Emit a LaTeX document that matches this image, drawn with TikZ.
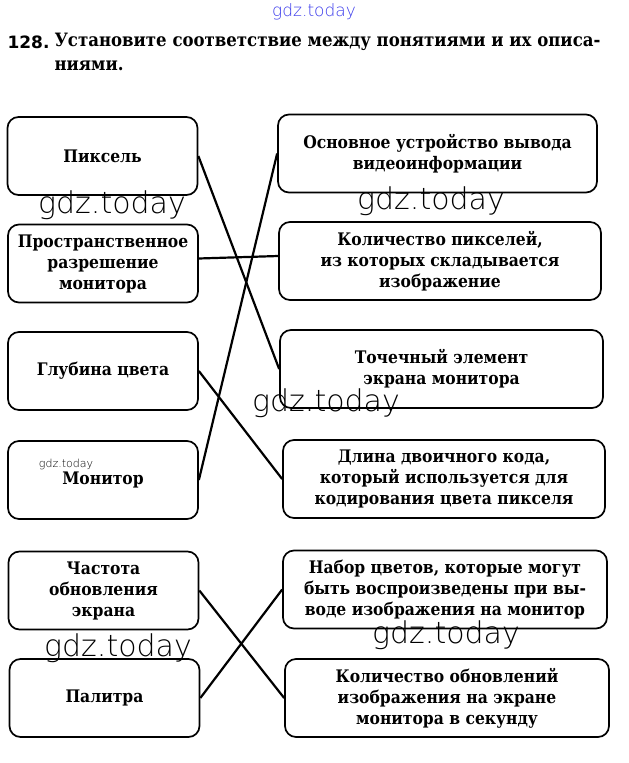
\documentclass[tikz,border=0pt]{standalone}
\usepackage{fontspec}
\setmainfont{DejaVu Serif Condensed}
\newfontfamily\numfont{DejaVu Sans}
\newfontfamily\wmfont{DejaVu Sans ExtraLight}
\definecolor{wmblue}{RGB}{60,60,235}

\begin{document}
\begin{tikzpicture}[x=1pt,y=-1pt,
  box/.style={draw,line width=1.7pt,rounded corners=11pt,minimum height=78pt,
    align=center,font=\bfseries\fontsize{17.3}{21}\selectfont},
  lbox/.style={box,minimum width=190pt},
  link/.style={line width=2.2pt},
  wm/.style={font=\wmfont\fontsize{30}{30}\selectfont,text=black}]
\useasboundingbox (0,0) rectangle (629,763);
% task
\node[anchor=west,font=\numfont\bfseries\fontsize{17}{17}\selectfont] (num) at (4,42) {128.};
\node[anchor=west,font=\bfseries\fontsize{18.4}{18.4}\selectfont] (task) at (51,42) {Установите соответствие между понятиями и их описа-};
\node[anchor=west,font=\bfseries\fontsize{18.4}{18.4}\selectfont] (task2) at (51,66) {ниями.};
% notions
\node[lbox] (pix) at (102.5,156) {Пиксель};
\node[lbox] (res) at (103,263.5) {Пространственное\\разрешение\\монитора};
\node[lbox] (depth) at (103,371) {Глубина цвета};
\node[lbox] (mon) at (103,480) {Монитор};
\node[lbox] (freq) at (103.5,590.5) {Частота\\обновления\\экрана};
\node[lbox] (pal) at (104.5,698) {Палитра};
% descriptions
\node[box,minimum width=319pt] (out) at (437.5,153.5) {Основное устройство вывода\\видеоинформации};
\node[box,minimum width=322pt] (cnt) at (440,261) {Количество пикселей,\\из которых складывается\\изображение};
\node[box,minimum width=323pt] (dot) at (441.5,369) {Точечный элемент\\экрана монитора};
\node[box,minimum width=322pt] (len) at (444,479) {Длина двоичного кода,\\который используется для\\кодирования цвета пикселя};
\node[box,minimum width=324pt] (colors) at (445,589.5) {Набор цветов, которые могут\\быть воспроизведены при вы-\\воде изображения на монитор};
\node[box,minimum width=324pt] (upd) at (447,698) {Количество обновлений\\изображения на экране\\монитора в секунду};
% answers
\draw[link] (pix.east) -- (dot.west);
\draw[link] ([yshift=5pt]res.east) -- ([yshift=5pt]cnt.west);
\draw[link] (depth.east) -- (len.west);
\draw[link] (mon.east) -- (out.west);
\draw[link] (freq.east) -- (upd.west);
\draw[link] (pal.east) -- (colors.west);
% watermarks
\node[font=\wmfont\fontsize{17}{17}\selectfont,text=wmblue] (wm0) at (314,12) {gdz.today};
\node[wm] (wm1) at (112,205) {gdz.today};
\node[wm] (wm2) at (431,201) {gdz.today};
\node[wm] (wm3) at (326,403) {gdz.today};
\node[wm] (wm4) at (118,648) {gdz.today};
\node[wm] (wm5) at (446,635) {gdz.today};
\node[font=\wmfont\fontsize{11}{11}\selectfont,text=black] (wm6) at (66,464) {gdz.today};
\end{tikzpicture}
\end{document}
